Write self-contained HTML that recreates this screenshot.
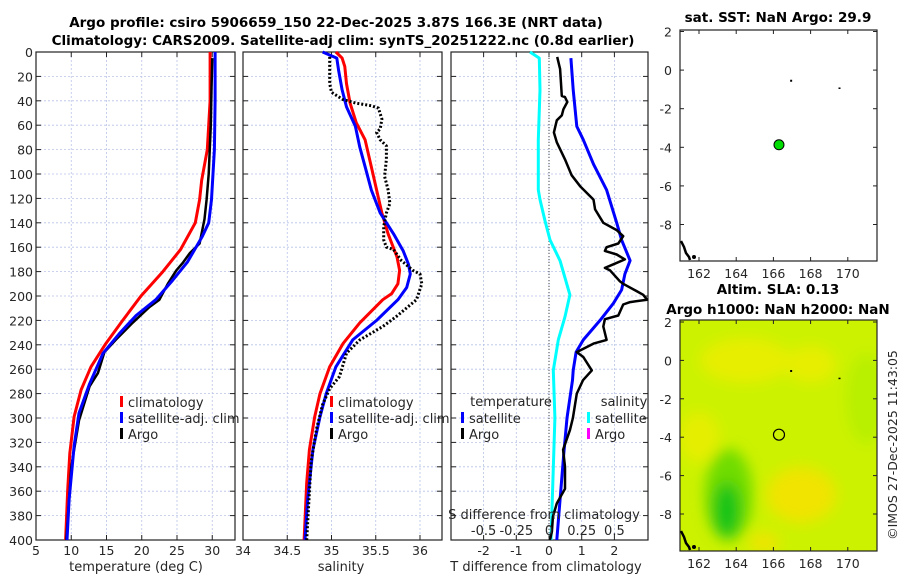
<!DOCTYPE html>
<html><head><meta charset="utf-8"><style>
body{margin:0;background:#fff;}
svg{display:block;font-family:"DejaVu Sans","Liberation Sans",sans-serif;}
.tk{font-size:12.5px;fill:#262626;}
.ttl{font-size:13.5px;font-weight:bold;fill:#000;}
.lg{font-size:13px;fill:#262626;}
</style></head><body>
<svg id="c" width="900" height="580" viewBox="0 0 900 580">
<defs>
<filter id="bl" x="-50%" y="-50%" width="200%" height="200%"><feGaussianBlur stdDeviation="7"/></filter>
<clipPath id="m2clip"><rect x="680" y="320" width="197" height="231"/></clipPath>
</defs>
<text class="ttl" x="336" y="27" text-anchor="middle">Argo profile: csiro 5906659_150 22-Dec-2025 3.87S 166.3E (NRT data)</text>
<text class="ttl" x="343" y="45" text-anchor="middle">Climatology: CARS2009. Satellite-adj clim: synTS_20251222.nc (0.8d earlier)</text>
<g id="p1"></g>
<g id="p2"></g>
<g id="p3"></g>
<g id="m1"></g>
<g id="m2"></g>
<text class="tk" transform="translate(897,445) rotate(-90)" text-anchor="middle" font-size="13">©IMOS 27-Dec-2025 11:43:05</text>
</svg>
<script>
// ---- data ----
const depthTicks=[0,20,40,60,80,100,120,140,160,180,200,220,240,260,280,300,320,340,360,380,400];
const tTicks=[5,10,15,20,25,30];
const sTicks=[34,34.5,35,35.5,36];
const tdTicks=[-2,-1,0,1,2];
const sdTicks=[-0.5,-0.25,0,0.25,0.5];
const sdTickLabels=["-0.5","-0.25","0","0.25","0.5"];
const tempClimDepth=[0,40,80,105,121,140,162,180,200,220,239,258,277,299,329,359,400];
const tempClimVal=[29.7,29.7,29.3,28.5,28.2,27.6,25.5,23.0,19.9,17.3,14.9,12.8,11.4,10.4,9.8,9.5,9.2];
const tempSatDepth=[0,40,80,121,140,151,172,187,203,216,231,247,272,296,323,367,400];
const tempSatVal=[30.4,30.4,30.3,29.9,29.5,28.6,26.5,24.4,22.0,19.2,16.8,14.5,12.6,11.1,10.4,9.7,9.4];
const tempArgoDepth=[5,30,60,100,121,137,157,165,173,179,190,203,209,222,236,246,263,274,302,340,400];
const tempArgoVal=[30.0,29.9,29.8,29.5,29.2,28.9,28.2,26.8,25.8,24.9,23.7,22.5,21.1,18.7,16.3,14.7,13.8,12.6,11.1,10.0,9.3];
const salClimDepth=[0,5,12,26,42,58,72,94,113,132,149,168,179,190,198,203,222,239,258,280,299,326,353,400];
const salClimVal=[35.05,35.12,35.15,35.17,35.21,35.28,35.38,35.45,35.51,35.57,35.64,35.74,35.77,35.75,35.68,35.58,35.32,35.13,34.98,34.87,34.81,34.75,34.72,34.69];
const salSatDepth=[0,5,15,31,45,61,78,94,113,132,149,163,174,182,193,203,220,236,258,280,299,326,367,400];
const salSatVal=[34.90,35.06,35.08,35.12,35.17,35.27,35.32,35.38,35.45,35.55,35.70,35.81,35.87,35.89,35.85,35.75,35.51,35.24,35.05,34.94,34.87,34.79,34.73,34.70];
const salArgoDepth=[4,12,26,33,39,42,44,46,55,63,66,72,77,88,102,113,124,132,143,154,160,162,171,179,182,190,203,217,225,236,247,266,276,289,309,336,400];
const salArgoVal=[34.98,34.98,34.98,35.00,35.13,35.28,35.45,35.53,35.57,35.55,35.51,35.55,35.62,35.62,35.60,35.64,35.66,35.62,35.59,35.59,35.62,35.70,35.79,35.92,36.00,36.02,35.96,35.73,35.58,35.32,35.17,35.09,34.98,34.90,34.83,34.77,34.72];
const sDiffDepth=[0,5,31,72,113,121,138,154,171,199,217,236,261,300,400];
const sDiffVal=[-0.145,-0.074,-0.069,-0.082,-0.082,-0.069,-0.031,0.008,0.084,0.16,0.122,0.071,0.033,0.045,0.015];
const tDiffSatDepth=[5,31,61,72,92,113,140,154,171,182,195,206,220,236,246,261,269,300,330,400];
const tDiffSatVal=[0.67,0.74,0.85,1.05,1.36,1.76,2.07,2.22,2.48,2.32,2.22,1.97,1.56,1.05,0.83,0.74,0.72,0.55,0.45,0.24];
const tDiffArgoDepth=[4,14,36,37,41,47,52,56,66,74,88,101,110,121,129,140,146,151,157,160,163,166,170,174,177,179,188,190,196,199,203,205,207,216,219,225,236,239,246,250,261,269,280,300,310,326,340,358,370,381,393,400];
const tDiffArgoVal=[0.25,0.34,0.39,0.49,0.56,0.44,0.39,0.24,0.15,0.24,0.49,0.69,0.95,1.36,1.41,1.66,2.07,2.27,2.12,1.76,1.71,2.07,2.32,1.97,1.71,1.87,2.17,2.27,2.68,2.88,3.0,2.48,2.27,2.12,1.71,1.66,1.76,1.36,0.85,1.05,1.31,1.04,0.85,0.73,0.64,0.43,0.49,0.49,0.24,0.12,0.09,0.03];
const latTicks=[2,0,-2,-4,-6,-8];
const lonTicks=[162,164,166,168,170];
const floatLon=166.3, floatLat=-3.87;

// ---- helpers ----
const NS="http://www.w3.org/2000/svg";
function mk(parent,tag,attrs){const e=document.createElementNS(NS,tag);for(const k in attrs)e.setAttribute(k,attrs[k]);parent.appendChild(e);return e;}
const Y0=52,Y1=540;
const yD=d=>Y0+(d/400)*(Y1-Y0);
function path(xs,ds,fx){return xs.map((v,i)=>(i?'L':'M')+fx(v).toFixed(1)+','+yD(ds[i]).toFixed(1)).join(' ');}

function frame(g,x0,x1,xt,fx,labels,showY){
  depthTicks.forEach(d=>{
    const gl=mk(g,'line',{x1:x0,x2:x1,y1:yD(d),y2:yD(d),stroke:'#b8c4e6','stroke-width':0.8,'stroke-dasharray':'2,2'});
    
    mk(g,'line',{x1:x0,x2:x0+5,y1:yD(d),y2:yD(d),stroke:'#222'});
    mk(g,'line',{x1:x1-5,x2:x1,y1:yD(d),y2:yD(d),stroke:'#222'});
    if(showY){const t=mk(g,'text',{x:x0-3,y:yD(d)+5,'text-anchor':'end',class:'tk'});t.textContent=d;
      }
  });
  xt.forEach((v,i)=>{const x=fx(v);
    mk(g,'line',{x1:x,x2:x,y1:Y0,y2:Y1,stroke:'#b8c4e6','stroke-width':0.8,'stroke-dasharray':'2,2'});
    mk(g,'line',{x1:x,x2:x,y1:Y0,y2:Y0+5,stroke:'#222'});
    mk(g,'line',{x1:x,x2:x,y1:Y1-5,y2:Y1,stroke:'#222'});
    if(labels){const t=mk(g,'text',{x:x,y:555,'text-anchor':'middle',class:'tk'});t.textContent=labels[i];
      }
  });
  mk(g,'rect',{x:x0,y:Y0,width:x1-x0,height:Y1-Y0,fill:'none',stroke:'#222','stroke-width':1.2});
}
function line(g,xs,ds,fx,color,w,dash,name){
  const p=mk(g,'path',{d:path(xs,ds,fx),fill:'none',stroke:color,'stroke-width':w,'stroke-linejoin':'round'});
  if(dash)p.setAttribute('stroke-dasharray',dash);
  
  
}
function legend(g,x,y,color,label,name){
  mk(g,'rect',{x:x,y:y-11,width:3,height:11,fill:color});
  const t=mk(g,'text',{x:x+8,y:y,class:'lg'});t.textContent=label;
  
  
}
function text(g,x,y,s,name,anchor,cls){const t=mk(g,'text',{x:x,y:y,'text-anchor':anchor||'middle',class:cls||'lg'});t.textContent=s;
  return t;}

// ---- panel 1 ----
const p1=document.getElementById('p1');
const fT=v=>36+(v-5)*7.05;
frame(p1,36,235,tTicks,fT,tTicks.map(String),true);
line(p1,tempClimVal,tempClimDepth,fT,'#ff0000',3,null,'temperature-climatology-line');
line(p1,tempArgoVal,tempArgoDepth,fT,'#000',2.5,null,'temperature-argo-line');
line(p1,tempSatVal,tempSatDepth,fT,'#0000ff',3,null,'temperature-satellite-line');
legend(p1,120,407,'#ff0000','climatology','legend-climatology');
legend(p1,120,423,'#0000ff','satellite-adj. clim','legend-satellite');
legend(p1,120,439,'#000','Argo','legend-argo');
text(p1,136,571,'temperature (deg C)','x-axis-title-temperature');

// ---- panel 2 ----
const p2=document.getElementById('p2');
const fS=v=>243+(v-34)*88.5;
frame(p2,243,442,sTicks,fS,["34","34.5","35","35.5","36"],false);
line(p2,salClimVal,salClimDepth,fS,'#ff0000',3,null,'salinity-climatology-line');
line(p2,salSatVal,salSatDepth,fS,'#0000ff',3,null,'salinity-satellite-line');
line(p2,salArgoVal,salArgoDepth,fS,'#000',3,'2,2','salinity-argo-line');
legend(p2,330,407,'#ff0000','climatology','legend-climatology');
legend(p2,330,423,'#0000ff','satellite-adj. clim','legend-satellite');
legend(p2,330,439,'#000','Argo','legend-argo');
text(p2,341,571,'salinity','x-axis-title-salinity');

// ---- panel 3 ----
const p3=document.getElementById('p3');
const fTd=v=>549+v*32.7;
const fSd=v=>549+v*130.8;
frame(p3,451,648,tdTicks,fTd,tdTicks.map(String),false);
mk(p3,'line',{x1:549,x2:549,y1:Y0,y2:Y1,stroke:'#444','stroke-width':1,'stroke-dasharray':'1,2'});
line(p3,sDiffVal,sDiffDepth,fSd,'#00ffff',3,null,'salinity-difference-line');
line(p3,tDiffSatVal,tDiffSatDepth,fTd,'#0000ff',3,null,'temperature-satellite-difference-line');
line(p3,tDiffArgoVal,tDiffArgoDepth,fTd,'#000',2.5,null,'temperature-argo-difference-line');
text(p3,511,406,'temperature','legend-temperature-heading');
legend(p3,461,423,'#0000ff','satellite','legend-t-satellite');
legend(p3,461,439,'#000','Argo','legend-t-argo');
text(p3,624,406,'salinity','legend-salinity-heading');
legend(p3,587,423,'#00ffff','satellite','legend-s-satellite');
legend(p3,587,439,'#ff00ff','Argo','legend-s-argo');
text(p3,544,519,'S difference from climatology','s-axis-title');
sdTicks.forEach((v,i)=>{text(p3,fSd(v),535,sdTickLabels[i],'s-tick-label');});
text(p3,546,571,'T difference from climatology','x-axis-title-tdiff');

// ---- maps ----
function map(g,y0,y1,latAt2,pxPerLat,title1,title2,filled){
  const x0=680,x1=877;
  const fx=lon=>699+(lon-162)*18.6;
  const fy=lat=>latAt2+(2-lat)*pxPerLat;
  if(filled){
    const c=mk(g,'g',{'clip-path':'url(#m2clip)'});
    mk(c,'rect',{x:x0,y:y0,width:x1-x0,height:y1-y0,fill:'#ccf200'});
    const fg=mk(c,'g',{filter:'url(#bl)'});
    mk(fg,'ellipse',{cx:fx(164.5),cy:fy(0),rx:45,ry:22,fill:'#e8ee00'});
    mk(fg,'ellipse',{cx:fx(168),cy:fy(-0.2),rx:25,ry:18,fill:'#e8ee00'});
    mk(fg,'ellipse',{cx:fx(171),cy:fy(-2),rx:20,ry:45,fill:'#b8f000'});
    mk(fg,'ellipse',{cx:fx(162),cy:fy(-4),rx:20,ry:25,fill:'#e6ee00'});
    mk(fg,'ellipse',{cx:fx(167.5),cy:fy(-7),rx:35,ry:28,fill:'#f0e400'});
    mk(fg,'ellipse',{cx:fx(165.5),cy:fy(-9.5),rx:15,ry:10,fill:'#f0e400'});
    mk(fg,'ellipse',{cx:fx(163.6),cy:fy(-7),rx:24,ry:46,fill:'#70dc00'});
    mk(fg,'ellipse',{cx:fx(163.5),cy:fy(-7.8),rx:14,ry:28,fill:'#18c418'});
  }
  latTicks.forEach(l=>{const y=fy(l);
    mk(g,'line',{x1:x0,x2:x0+4,y1:y,y2:y,stroke:'#222'});mk(g,'line',{x1:x1-4,x2:x1,y1:y,y2:y,stroke:'#222'});
    text(g,x0-8,y+5,String(l),'lat-tick-label','end','tk');});
  lonTicks.forEach(l=>{const x=fx(l);
    mk(g,'line',{x1:x,x2:x,y1:y0,y2:y0+4,stroke:'#222'});mk(g,'line',{x1:x,x2:x,y1:y1-4,y2:y1,stroke:'#222'});
    text(g,x,y1+17,String(l),'lon-tick-label','middle','tk');});
  mk(g,'rect',{x:x0,y:y0,width:x1-x0,height:y1-y0,fill:'none',stroke:'#222','stroke-width':1.2});
  mk(g,'path',{d:`M${x0+1},${y1-20} l3,6 l2,6 l3,4 l1,3`,stroke:'#000','stroke-width':2.5,fill:'none'});
  mk(g,'circle',{cx:x0+14,cy:y1-4,r:2,fill:'#000'});
  mk(g,'rect',{x:fx(166.9),y:fy(-0.5),width:2,height:2,fill:'#000'});
  mk(g,'rect',{x:fx(169.5),y:fy(-0.9),width:2,height:1.5,fill:'#000'});
  if(title1)text(g,778,y0-8-(title2?18:0),title1,'map-title','middle','ttl');
  if(title2)text(g,778,y0-6,title2,'map-subtitle','middle','ttl');
  return {fx,fy};
}
const m1=document.getElementById('m1');
const a=map(m1,30,261,31.5,19.3,'sat. SST: NaN Argo: 29.9',null,false);
const dot=mk(m1,'circle',{cx:a.fx(floatLon),cy:a.fy(floatLat),r:5,fill:'#00dd00',stroke:'#000','stroke-width':1});


const m2=document.getElementById('m2');
const b=map(m2,320,551,322,19.2,'Altim. SLA: 0.13','Argo h1000: NaN h2000: NaN',true);
const ring=mk(m2,'circle',{cx:b.fx(floatLon),cy:b.fy(floatLat),r:5.5,fill:'none',stroke:'#000','stroke-width':1.2});


</script>
</body></html>
